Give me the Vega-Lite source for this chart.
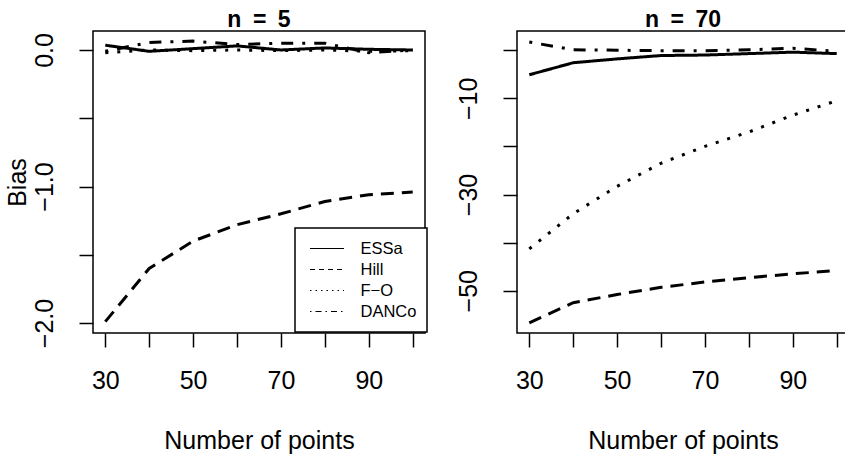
{
  "$schema": "https://vega.github.io/schema/vega-lite/v6.json",
  "padding": {"left": 4, "top": 8, "right": 0, "bottom": 0},
  "background": "white",
  "spacing": 26,
  "config": {
    "view": {"stroke": "black", "strokeWidth": 1.5},
    "font": "Liberation Sans",
    "axis": {
      "domain": false, "grid": false, "tickColor": "black", "tickSize": 14, "tickWidth": 1.5,
      "labelFont": "Liberation Sans", "labelFontSize": 25, "labelColor": "black",
      "titleFont": "Liberation Sans", "titleFontSize": 25, "titleFontWeight": "normal", "titleColor": "black",
      "labelFlush": false, "labelOverlap": false
    },
    "legend": {"strokeWidth": 1.5},
    "title": {"font": "Liberation Sans", "fontSize": 23, "fontWeight": "bold", "color": "black", "offset": -1, "baseline": "alphabetic"}
  },
  "datasets": {
    "bias": [
      {"panel": "n5", "points": 30, "method": "ESSa", "bias": 0.035},
      {"panel": "n5", "points": 40, "method": "ESSa", "bias": -0.01},
      {"panel": "n5", "points": 50, "method": "ESSa", "bias": 0.01},
      {"panel": "n5", "points": 60, "method": "ESSa", "bias": 0.03},
      {"panel": "n5", "points": 70, "method": "ESSa", "bias": 0.0},
      {"panel": "n5", "points": 80, "method": "ESSa", "bias": 0.015},
      {"panel": "n5", "points": 90, "method": "ESSa", "bias": 0.005},
      {"panel": "n5", "points": 100, "method": "ESSa", "bias": 0.0},
      {"panel": "n5", "points": 30, "method": "Hill", "bias": -1.99},
      {"panel": "n5", "points": 40, "method": "Hill", "bias": -1.6},
      {"panel": "n5", "points": 50, "method": "Hill", "bias": -1.4},
      {"panel": "n5", "points": 60, "method": "Hill", "bias": -1.28},
      {"panel": "n5", "points": 70, "method": "Hill", "bias": -1.2},
      {"panel": "n5", "points": 80, "method": "Hill", "bias": -1.11},
      {"panel": "n5", "points": 90, "method": "Hill", "bias": -1.06},
      {"panel": "n5", "points": 100, "method": "Hill", "bias": -1.04},
      {"panel": "n5", "points": 30, "method": "F-O", "bias": -0.02},
      {"panel": "n5", "points": 40, "method": "F-O", "bias": 0.0},
      {"panel": "n5", "points": 50, "method": "F-O", "bias": -0.005},
      {"panel": "n5", "points": 60, "method": "F-O", "bias": 0.0},
      {"panel": "n5", "points": 70, "method": "F-O", "bias": -0.005},
      {"panel": "n5", "points": 80, "method": "F-O", "bias": 0.0},
      {"panel": "n5", "points": 90, "method": "F-O", "bias": -0.01},
      {"panel": "n5", "points": 100, "method": "F-O", "bias": -0.005},
      {"panel": "n5", "points": 30, "method": "DANCo", "bias": -0.01},
      {"panel": "n5", "points": 40, "method": "DANCo", "bias": 0.055},
      {"panel": "n5", "points": 50, "method": "DANCo", "bias": 0.065},
      {"panel": "n5", "points": 60, "method": "DANCo", "bias": 0.04},
      {"panel": "n5", "points": 70, "method": "DANCo", "bias": 0.05},
      {"panel": "n5", "points": 80, "method": "DANCo", "bias": 0.05},
      {"panel": "n5", "points": 90, "method": "DANCo", "bias": -0.02},
      {"panel": "n5", "points": 100, "method": "DANCo", "bias": 0.0},
      {"panel": "n70", "points": 30, "method": "ESSa", "bias": -5.1},
      {"panel": "n70", "points": 40, "method": "ESSa", "bias": -2.6},
      {"panel": "n70", "points": 50, "method": "ESSa", "bias": -1.8},
      {"panel": "n70", "points": 60, "method": "ESSa", "bias": -1.1},
      {"panel": "n70", "points": 70, "method": "ESSa", "bias": -1.0},
      {"panel": "n70", "points": 80, "method": "ESSa", "bias": -0.7},
      {"panel": "n70", "points": 90, "method": "ESSa", "bias": -0.4},
      {"panel": "n70", "points": 100, "method": "ESSa", "bias": -0.7},
      {"panel": "n70", "points": 30, "method": "Hill", "bias": -56.7},
      {"panel": "n70", "points": 40, "method": "Hill", "bias": -52.5},
      {"panel": "n70", "points": 50, "method": "Hill", "bias": -50.8},
      {"panel": "n70", "points": 60, "method": "Hill", "bias": -49.3},
      {"panel": "n70", "points": 70, "method": "Hill", "bias": -48.2},
      {"panel": "n70", "points": 80, "method": "Hill", "bias": -47.3},
      {"panel": "n70", "points": 90, "method": "Hill", "bias": -46.5},
      {"panel": "n70", "points": 100, "method": "Hill", "bias": -45.8},
      {"panel": "n70", "points": 30, "method": "F-O", "bias": -41.3},
      {"panel": "n70", "points": 40, "method": "F-O", "bias": -34.0},
      {"panel": "n70", "points": 50, "method": "F-O", "bias": -28.3},
      {"panel": "n70", "points": 60, "method": "F-O", "bias": -23.5},
      {"panel": "n70", "points": 70, "method": "F-O", "bias": -20.0},
      {"panel": "n70", "points": 80, "method": "F-O", "bias": -17.0},
      {"panel": "n70", "points": 90, "method": "F-O", "bias": -13.5},
      {"panel": "n70", "points": 100, "method": "F-O", "bias": -10.5},
      {"panel": "n70", "points": 30, "method": "DANCo", "bias": 1.7},
      {"panel": "n70", "points": 40, "method": "DANCo", "bias": 0.1},
      {"panel": "n70", "points": 50, "method": "DANCo", "bias": 0.0},
      {"panel": "n70", "points": 60, "method": "DANCo", "bias": -0.1},
      {"panel": "n70", "points": 70, "method": "DANCo", "bias": -0.1},
      {"panel": "n70", "points": 80, "method": "DANCo", "bias": 0.1},
      {"panel": "n70", "points": 90, "method": "DANCo", "bias": 0.4},
      {"panel": "n70", "points": 100, "method": "DANCo", "bias": -0.2}
    ]
  },
  "resolve": {"scale": {"strokeDash": "independent"}, "legend": {"strokeDash": "independent"}},
  "hconcat": [
    {
      "width": 332, "height": 302,
      "title": {"text": "n\u2002=\u20025"},
      "data": {"name": "bias"},
      "transform": [{"filter": "datum.panel == 'n5'"}],
      "encoding": {
        "x": {"field": "points", "type": "quantitative",
          "scale": {"domain": [27.2, 102.8], "nice": false, "zero": false},
          "axis": {"title": "Number of points", "values": [30, 40, 50, 60, 70, 80, 90, 100],
            "labelExpr": "datum.value % 20 == 10 ? datum.label : ''", "labelPadding": 21, "titlePadding": 35}},
        "y": {"field": "bias", "type": "quantitative",
          "scale": {"domain": [-2.073, 0.139], "nice": false, "zero": false},
          "axis": {"title": "Bias", "values": [-2, -1.5, -1, -0.5, 0], "labelAngle": -90,
            "labelExpr": "datum.value % 1 == 0 ? format(datum.value, '.1f') : ''", "labelPadding": 22, "titlePadding": 2}}
      },
      "layer": [
        {
          "mark": {"type": "line", "color": "black", "strokeWidth": 3, "strokeCap": "butt", "clip": true},
          "encoding": {
            "strokeDash": {"field": "method", "type": "nominal",
              "scale": {"domain": ["ESSa", "Hill", "F-O", "DANCo"], "range": [[1, 0], [13, 8], [3, 9], [3, 9, 12, 9]]},
              "legend": null}
          }
        },
        {
          "transform": [{"filter": "false"}],
          "mark": {"type": "line", "color": "black", "strokeWidth": 1, "clip": true},
          "encoding": {
            "strokeDash": {"field": "method", "type": "nominal",
              "scale": {"domain": ["ESSa", "Hill", "F-O", "DANCo"], "range": [[1, 0], [5, 4], [1.5, 4], [1.5, 4, 6, 4]]},
              "legend": {"orient": "none", "legendX": 202, "legendY": 197, "title": null, "padding": 10,
                "symbolType": "stroke", "symbolSize": 1156, "symbolStrokeWidth": 1, "symbolStrokeColor": "black",
                "labelFont": "Liberation Sans", "labelFontSize": 16.5, "labelColor": "black", "labelOffset": 16,
                "rowPadding": 0, "clipHeight": 21, "strokeColor": "black", "fillColor": "white", "symbolOffset": 4.5,
                "labelExpr": "replace(datum.label, '-', '\u2212')"}}
          }
        }
      ],
      "resolve": {"scale": {"strokeDash": "independent"}, "legend": {"strokeDash": "independent"}}
    },
    {
      "width": 332, "height": 302,
      "title": {"text": "n\u2002=\u200270"},
      "data": {"name": "bias"},
      "transform": [{"filter": "datum.panel == 'n70'"}],
      "mark": {"type": "line", "color": "black", "strokeWidth": 3, "strokeCap": "butt", "clip": true},
      "encoding": {
        "x": {"field": "points", "type": "quantitative",
          "scale": {"domain": [27.2, 102.8], "nice": false, "zero": false},
          "axis": {"title": "Number of points", "values": [30, 40, 50, 60, 70, 80, 90, 100],
            "labelExpr": "datum.value % 20 == 10 ? datum.label : ''", "labelPadding": 21, "titlePadding": 35}},
        "y": {"field": "bias", "type": "quantitative",
          "scale": {"domain": [-58.8, 4.0], "nice": false, "zero": false},
          "axis": {"title": null, "values": [-50, -40, -30, -20, -10, 0], "labelAngle": -90,
            "labelExpr": "datum.value % 20 != 0 ? format(datum.value, 'd') : ''", "labelPadding": 22}},
        "strokeDash": {"field": "method", "type": "nominal",
          "scale": {"domain": ["ESSa", "Hill", "F-O", "DANCo"], "range": [[1, 0], [13, 8], [3, 9], [3, 9, 12, 9]]},
          "legend": null}
      }
    }
  ]
}
